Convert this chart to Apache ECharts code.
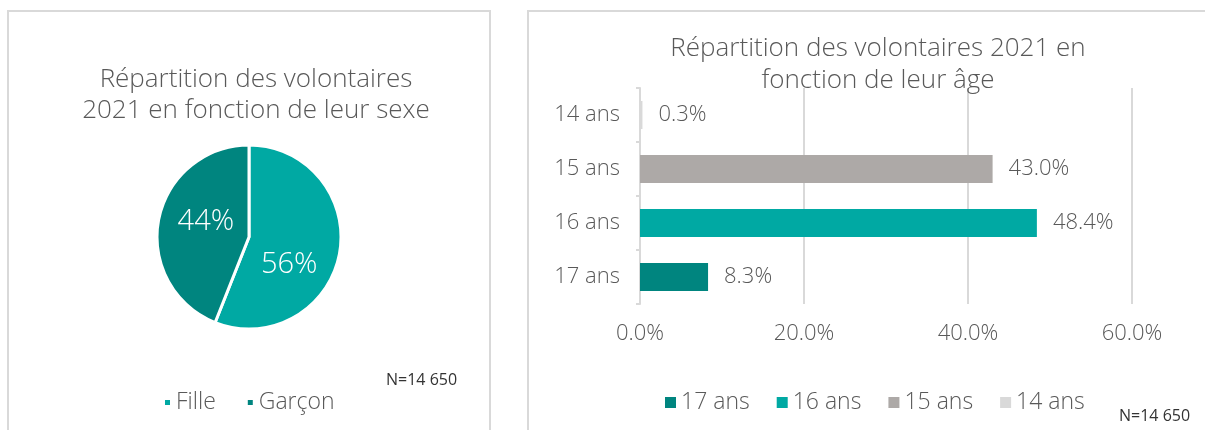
<!DOCTYPE html>
<html>
<head>
<meta charset="utf-8">
<script src="https://cdn.jsdelivr.net/npm/echarts@6/dist/echarts.min.js"></script>
<style>
  html, body { margin: 0; padding: 0; background: #fff; }
  #chart { width: 1205px; height: 430px; }
</style>
</head>
<body>
<div id="chart"></div>
<script>
// sexe
const sexes = ['Fille', 'Garçon'];
const sexShares = [56, 44];
const sexColors = ['#00A9A3', '#00857F'];

// âge (du bas vers le haut)
const ages = ['17 ans', '16 ans', '15 ans', '14 ans'];
const ageShares = [8.3, 48.4, 43.0, 0.3];
const ageColors = ['#00857F', '#00A9A3', '#ADA9A7', '#D9D9D9'];
const ageTicks = [0, 20, 40, 60];

const sampleNote = 'N=14 650';
const font = '"Open Sans", Lato, sans-serif';
const textColor = '#595959';

const chart = echarts.init(document.getElementById('chart'));

// one bar series per age so the legend gets its own colour
const ageSeries = ages.map((name, i) => ({
  name: name,
  type: 'bar',
  stack: 'age',
  barWidth: 28,
  itemStyle: { color: ageColors[i] },
  label: {
    show: true,
    position: 'right',
    distance: 16,
    fontFamily: font,
    fontSize: 22,
    fontWeight: 300,
    color: textColor,
    formatter: p => p.value.toFixed(1) + '%'
  },
  data: ages.map((_, j) => (j === i ? ageShares[i] : '-'))
}));

// Excel puts the pie labels a bit off the mid radius
const pieLabelOffsets = [[-8, 19], [5, -6]];

const option = {
  animation: false,
  textStyle: { fontFamily: font },
  title: [
    {
      text: 'Répartition des volontaires\n2021 en fonction de leur sexe',
      left: 251,
      top: 59,
      textAlign: 'center',
      textStyle: { fontFamily: font, fontSize: 26, fontWeight: 300, color: textColor, lineHeight: 31 }
    },
    {
      text: 'Répartition des volontaires 2021 en\nfonction de leur âge',
      left: 873,
      top: 28,
      textAlign: 'center',
      textStyle: { fontFamily: font, fontSize: 26, fontWeight: 300, color: textColor, lineHeight: 32 }
    }
  ],
  legend: [
    {
      data: sexes,
      left: 158,
      top: 386,
      icon: 'rect',
      itemWidth: 7,
      itemHeight: 7,
      itemGap: 30,
      textStyle: { fontFamily: font, fontSize: 23, fontWeight: 300, color: textColor }
    },
    {
      data: ages,
      left: 660,
      top: 386,
      icon: 'rect',
      itemWidth: 11,
      itemHeight: 11,
      itemGap: 27,
      textStyle: { fontFamily: font, fontSize: 23, fontWeight: 300, color: textColor }
    }
  ],
  grid: { left: 640, right: 73, top: 88, bottom: 126 },
  xAxis: {
    type: 'value',
    min: ageTicks[0],
    max: ageTicks[ageTicks.length - 1],
    interval: 20,
    axisLine: { show: false },
    axisTick: { show: false },
    splitLine: { lineStyle: { color: '#D9D9D9', width: 2 } },
    axisLabel: {
      margin: 19,
      fontFamily: font,
      fontSize: 22,
      fontWeight: 300,
      color: textColor,
      formatter: v => v.toFixed(1) + '%'
    }
  },
  yAxis: {
    type: 'category',
    data: ages,
    axisLine: { lineStyle: { color: '#D9D9D9', width: 2 } },
    axisTick: { show: true, length: 4, lineStyle: { color: '#D9D9D9', width: 2 } },
    axisLabel: { margin: 20, fontFamily: font, fontSize: 22, fontWeight: 300, color: textColor }
  },
  series: [
    {
      name: 'sexe',
      type: 'pie',
      center: [249, 237],
      radius: [0, 92],
      startAngle: 90,
      clockwise: true,
      itemStyle: { borderColor: '#fff', borderWidth: 3 },
      label: {
        show: true,
        position: 'inside',
        fontFamily: font,
        fontSize: 29,
        fontWeight: 300,
        color: '#fff',
        formatter: p => p.value + '%'
      },
      labelLine: { show: false },
      data: sexes.map((name, i) => ({
        name: name,
        value: sexShares[i],
        itemStyle: { color: sexColors[i] },
        label: { offset: pieLabelOffsets[i] }
      }))
    }
  ].concat(ageSeries),
  graphic: [
    {
      type: 'rect',
      shape: { x: 8, y: 11, width: 482, height: 440 },
      style: { fill: 'none', stroke: '#D9D9D9', lineWidth: 2 },
      silent: true
    },
    {
      type: 'rect',
      shape: { x: 528, y: 11, width: 700, height: 440 },
      style: { fill: 'none', stroke: '#D9D9D9', lineWidth: 2 },
      silent: true
    },
    {
      type: 'text',
      left: 386,
      top: 372,
      style: { text: sampleNote, fontFamily: font, fontSize: 16, fill: '#333' }
    },
    {
      type: 'text',
      left: 1119,
      top: 408,
      style: { text: sampleNote, fontFamily: font, fontSize: 16, fill: '#333' }
    }
  ]
};

chart.setOption(option);
window.addEventListener('resize', () => chart.resize());
</script>
</body>
</html>
